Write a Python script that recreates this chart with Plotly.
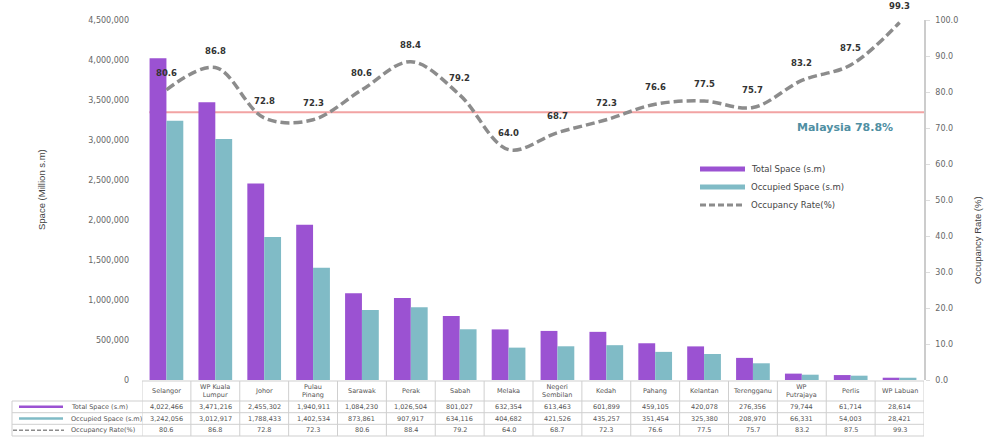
import plotly.graph_objects as go

# ---------------- data ----------------
states = ["Selangor", "WP Kuala Lumpur", "Johor", "Pulau Pinang", "Sarawak", "Perak",
          "Sabah", "Melaka", "Negeri Sembilan", "Kedah", "Pahang", "Kelantan",
          "Terengganu", "WP Putrajaya", "Perlis", "WP Labuan"]
state_labels = ["Selangor", "WP Kuala<br>Lumpur", "Johor", "Pulau<br>Pinang", "Sarawak", "Perak",
                "Sabah", "Melaka", "Negeri<br>Sembilan", "Kedah", "Pahang", "Kelantan",
                "Terengganu", "WP<br>Putrajaya", "Perlis", "WP Labuan"]
total_space = [4022466, 3471216, 2455302, 1940911, 1084230, 1026504, 801027, 632354,
               613463, 601899, 459105, 420078, 276356, 79744, 61714, 28614]
occupied_space = [3242056, 3012917, 1788433, 1402534, 873861, 907917, 634116, 404682,
                  421526, 435257, 351454, 325380, 208970, 66331, 54003, 28421]
occupancy_rate = [80.6, 86.8, 72.8, 72.3, 80.6, 88.4, 79.2, 64.0, 68.7, 72.3, 76.6, 77.5,
                  75.7, 83.2, 87.5, 99.3]
malaysia_label = "Malaysia 78.8%"
malaysia_line_level = 74.4  # level at which the reference line is drawn

series_names = ["Total Space (s.m)", "Occupied Space (s.m)", "Occupancy Rate(%)"]

PURPLE = "#9b52d2"
TEAL = "#80bbc6"
GREY = "#8c8c8c"
TXT = "#555555"
FONT = "DejaVu Sans"

W, H = 990, 440
ML, MR, MT, MB = 142, 66, 20, 60
PW = W - ML - MR
PH = H - MT - MB


def px(xp):
    return (xp - ML) / PW


def py(yp):
    return (H - MB - yp) / PH


n = len(states)
idx = list(range(n))

fig = go.Figure()
fig.add_trace(go.Bar(x=idx, y=total_space, name=series_names[0], marker=dict(color=PURPLE, line=dict(width=0)),
                     showlegend=False))
fig.add_trace(go.Bar(x=idx, y=occupied_space, name=series_names[1], marker=dict(color=TEAL, line=dict(width=0)),
                     showlegend=False))
fig.add_trace(go.Scatter(x=idx, y=occupancy_rate, name=series_names[2], yaxis="y2", mode="lines",
                         line=dict(color=GREY, width=3.5, dash="9px,4px", shape="spline", smoothing=1.0),
                         showlegend=False))

annotations = []
shapes = []


def ann(**kw):
    kw.setdefault("showarrow", False)
    kw.setdefault("xanchor", "center")
    kw.setdefault("yanchor", "middle")
    annotations.append(kw)


# data labels for rate
for i, v in enumerate(occupancy_rate):
    ann(x=i, y=v, xref="x", yref="y2", text=f"<b>{v:.1f}</b>", yshift=17,
        font=dict(family=FONT, size=8.5, color="#333333"))

# Malaysia reference line
shapes.append(dict(type="line", xref="x", yref="y2", x0=-0.35, x1=n - 0.5,
                   y0=malaysia_line_level, y1=malaysia_line_level,
                   line=dict(color="#f2a3a3", width=2), layer="below"))
ann(x=px(845), y=py(127), xref="paper", yref="paper", text=f"<b>{malaysia_label}</b>",
    font=dict(family=FONT, size=11, color="#4f8fa3"))

# in-plot legend
leg_rows = [(169, PURPLE, "solid", 5), (187, TEAL, "solid", 5), (205, GREY, "6px,3px", 3)]
for (yy, col, dash, wd), name in zip(leg_rows, series_names):
    shapes.append(dict(type="line", xref="paper", yref="paper", x0=px(700), x1=px(745), y0=py(yy), y1=py(yy),
                       line=dict(color=col, width=wd, dash=dash)))
    ann(x=px(749), y=py(yy), xref="paper", yref="paper", text=name, xanchor="left",
        font=dict(family=FONT, size=8.5, color="#444444"))

# axis titles
ann(x=px(41), y=py(190), xref="paper", yref="paper", text="Space (Million s.m)", textangle=-90,
    font=dict(family="Liberation Sans", size=9.5, color="#444"))
ann(x=px(977), y=py(240), xref="paper", yref="paper", text="Occupancy Rate (%)", textangle=-90,
    font=dict(family="Liberation Sans", size=9.5, color="#444"))

# ---------------- data table below ----------------
row_top = 381
row_lines = [401, 412.7, 424.3, 436]
BORDER = "#cfcfcf"
shapes.append(dict(type="line", xref="paper", yref="paper", x0=0, x1=1, y0=py(row_top), y1=py(row_top),
                   line=dict(color=BORDER, width=1)))
for yl in row_lines:
    shapes.append(dict(type="line", xref="paper", yref="paper", x0=px(12), x1=1, y0=py(yl), y1=py(yl),
                       line=dict(color=BORDER, width=1)))
for i in range(n + 1):
    shapes.append(dict(type="line", xref="x", yref="paper", x0=i - 0.5, x1=i - 0.5,
                       y0=py(row_top), y1=py(row_lines[-1]), line=dict(color=BORDER, width=1)))
shapes.append(dict(type="line", xref="paper", yref="paper", x0=px(12), x1=px(12),
                   y0=py(row_lines[0]), y1=py(row_lines[-1]), line=dict(color=BORDER, width=1)))

for i, lab in enumerate(state_labels):
    ann(x=i, y=py((row_top + row_lines[0]) / 2), xref="x", yref="paper", text=lab,
        font=dict(family=FONT, size=6.5, color=TXT))

rows = [
    [f"{v:,}" for v in total_space],
    [f"{v:,}" for v in occupied_space],
    [f"{v:.1f}" for v in occupancy_rate],
]
row_samples = [(PURPLE, "solid", 2.5, 19, 63), (TEAL, "solid", 2.5, 19, 63), (GREY, "4px,2px", 1.5, 13, 64)]
for r, (vals, name, (col, dash, wd, xa, xb)) in enumerate(zip(rows, series_names, row_samples)):
    yc = (row_lines[r] + row_lines[r + 1]) / 2
    for i, t in enumerate(vals):
        ann(x=i, y=py(yc), xref="x", yref="paper", text=t, font=dict(family=FONT, size=6.5, color=TXT))
    ann(x=px(69), y=py(yc), xref="paper", yref="paper", text=name, xanchor="left",
        font=dict(family=FONT, size=6.5, color=TXT))
    shapes.append(dict(type="line", xref="paper", yref="paper", x0=px(xa), x1=px(xb), y0=py(yc), y1=py(yc),
                       line=dict(color=col, width=wd, dash=dash)))

fig.update_layout(
    width=W, height=H,
    margin=dict(l=ML, r=MR, t=MT, b=MB, pad=0, autoexpand=False),
    paper_bgcolor="white", plot_bgcolor="white",
    barmode="group", bargap=0.31, bargroupgap=0,
    xaxis=dict(range=[-0.5, n - 0.5], showticklabels=False, showgrid=False, zeroline=False,
               showline=False, ticks=""),
    yaxis=dict(range=[0, 4500000], dtick=500000, tickformat=",", showgrid=False, zeroline=False,
               showline=False, ticks="", ticklabelstandoff=12,
               tickfont=dict(family=FONT, size=8, color="#666666")),
    yaxis2=dict(range=[0, 100], dtick=10, tickformat=".1f", overlaying="y", side="right",
                showgrid=False, zeroline=False, showline=True, linecolor="#cccccc", linewidth=1.5,
                ticks="outside", ticklen=4, tickcolor="#dddddd", ticklabelstandoff=4,
                tickfont=dict(family=FONT, size=8, color="#666666")),
    annotations=annotations,
    shapes=shapes,
)

fig.write_html("out.html", config={"displayModeBar": False},
               post_script="document.body.style.margin='0';document.body.style.padding='0';")
